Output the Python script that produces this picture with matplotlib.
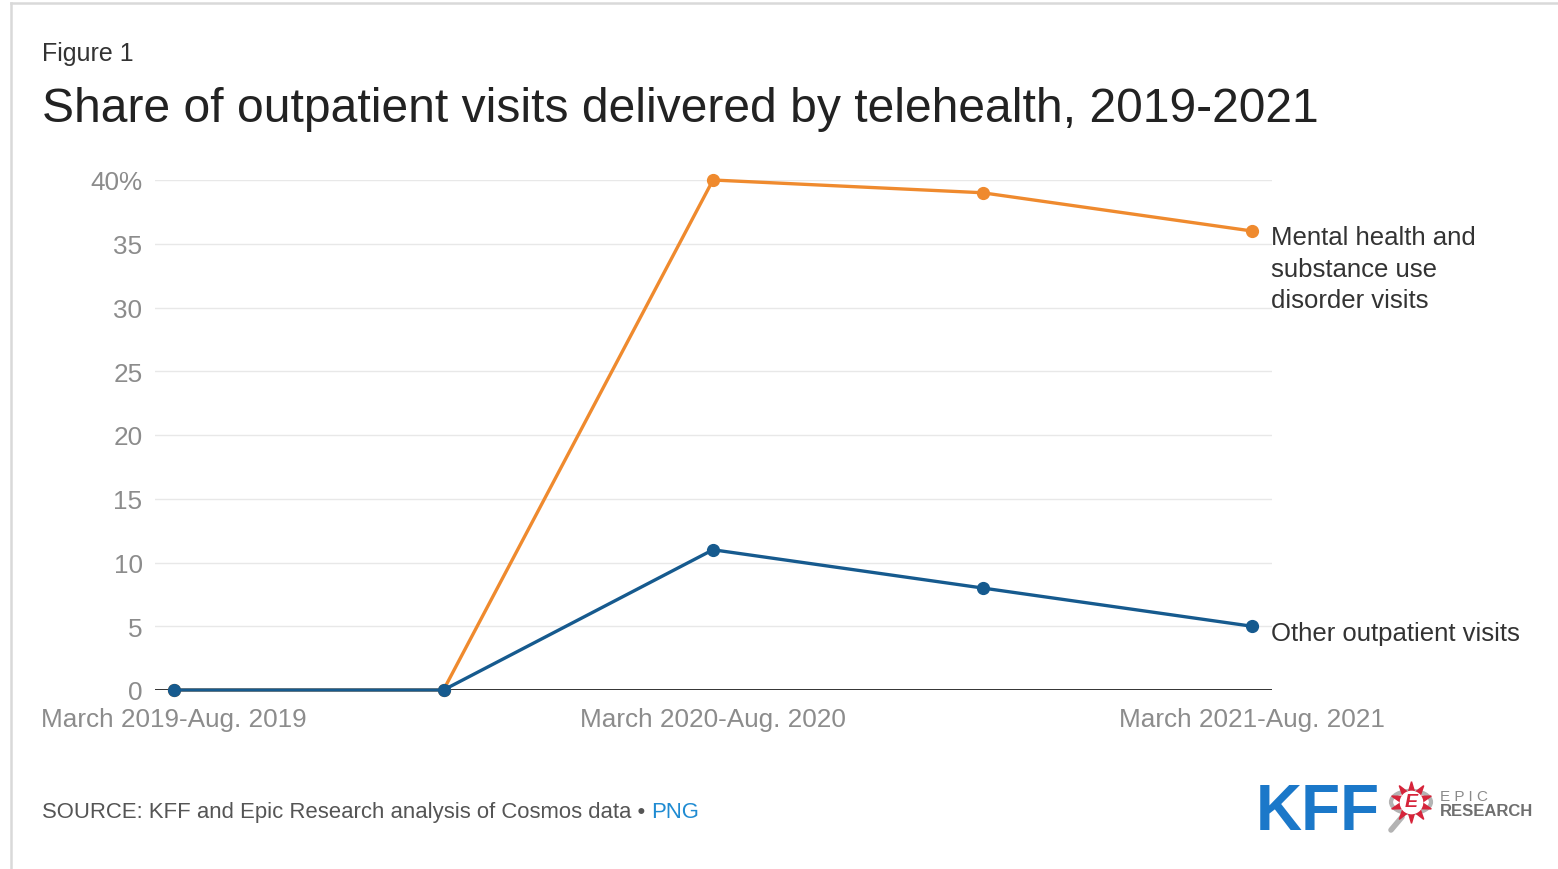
import numpy as np
import matplotlib
matplotlib.use("Agg")
import matplotlib.pyplot as plt
from matplotlib.lines import Line2D
from matplotlib.patches import Circle

plt.rcParams["font.family"] = ["Liberation Sans", "DejaVu Sans"]

periods = ["March 2019-Aug. 2019", "", "March 2020-Aug. 2020", "", "March 2021-Aug. 2021"]
mental_health = [0, 0, 40, 39, 36]
other_visits = [0, 0, 11, 8, 5]
yticks = [0, 5, 10, 15, 20, 25, 30, 35, 40]
ytick_labels = ["0", "5", "10", "15", "20", "25", "30", "35", "40%"]

ORANGE = "#ef8a2e"
BLUE = "#165a8e"
GREY_TXT = "#8c8c8c"
DARK_TXT = "#333333"

W, H = 1558, 870
fig = plt.figure(figsize=(W / 100, H / 100), dpi=100)

# outer frame (only top and left edges show)
fig.add_artist(Line2D([11 / W, 11 / W], [0, 1 - 4 / H], color="#d9d9d9", lw=1.8))
fig.add_artist(Line2D([11 / W, 1], [1 - 4 / H, 1 - 4 / H], color="#d9d9d9", lw=1.8))

fig.text(42 / W, 1 - 54 / H, "Figure 1", fontsize=18, color=DARK_TXT, va="center")
fig.text(42 / W, 1 - 110 / H, "Share of outpatient visits delivered by telehealth, 2019-2021",
         fontsize=34.6, color="#222222", va="center")

ax = fig.add_axes([155 / W, 1 - 691 / H, (1272 - 155) / W, (691 - 181) / H])
x = np.arange(len(periods))
ax.plot(x, mental_health, color=ORANGE, lw=2.4, marker="o", ms=8.5, clip_on=False, zorder=3)
ax.plot(x, other_visits, color=BLUE, lw=2.4, marker="o", ms=8.5, clip_on=False, zorder=4)

ax.set_ylim(0, 40)
ax.set_xlim(-19 * 4 / 1078, 4 + 20 * 4 / 1078)
ax.set_yticks(yticks)
ax.set_yticklabels(ytick_labels)
ax.set_xticks(x)
ax.set_xticklabels(periods)
ax.tick_params(axis="both", length=0, labelsize=18.8, labelcolor=GREY_TXT)
ax.tick_params(axis="y", pad=9)
ax.tick_params(axis="x", pad=12)
ax.grid(axis="y", color="#e8e8e8", lw=1.0)
ax.set_axisbelow(True)
for s in ax.spines.values():
    s.set_visible(False)
ax.axhline(0, color="#333333", lw=1.4, zorder=2)

ax.annotate("Mental health and\nsubstance use\ndisorder visits", xy=(4, mental_health[-1]),
            xytext=(14, 4), textcoords="offset points", fontsize=18.5, color=DARK_TXT,
            va="top", ha="left", linespacing=1.38, annotation_clip=False)
ax.annotate("Other outpatient visits", xy=(4, other_visits[-1]),
            xytext=(14, -5), textcoords="offset points", fontsize=18.5, color=DARK_TXT,
            va="center", ha="left", annotation_clip=False)

# source line
src = fig.text(42 / W, 1 - 813 / H, "SOURCE: KFF and Epic Research analysis of Cosmos data \u2022 ",
               fontsize=15.9, color="#555555", va="center")
fig.canvas.draw()
bb = src.get_window_extent()
fig.text(bb.x1 / W, 1 - 813 / H, "PNG", fontsize=15.9, color="#1f8bd2", va="center")

# logos
fig.text(1256 / W, 1 - 813 / H, "KFF", fontsize=46, fontweight="bold", color="#1b78c9",
         va="center", ha="left", family=["Liberation Sans Narrow", "Liberation Sans"])
lx, ly = 1411 / W, 1 - 803 / H
fig.add_artist(Line2D([1391 / W, 1402 / W], [1 - 831 / H, 1 - 818 / H], color="#b3b3b3",
                      lw=4, solid_capstyle="round"))
fig.add_artist(Circle((lx, ly), 20 / W, transform=fig.transFigure, fill=False,
                      ec="#b3b3b3", lw=3))
fig.add_artist(Line2D([lx], [ly], marker=(10, 1, 0), ms=30, color="#d6243a"))
fig.add_artist(Line2D([lx], [ly], marker="o", ms=16, color="white"))
fig.text(lx, ly, "E", fontsize=14, fontweight="bold", style="italic", color="#d6243a",
         ha="center", va="center")
fig.text(1440 / W, 1 - 797 / H, "E P I C", fontsize=11, color="#8a8a8a", va="center")
fig.text(1440 / W, 1 - 812 / H, "RESEARCH", fontsize=12, fontweight="bold",
         color="#6f6f6f", va="center")

fig.savefig("out.png", dpi=100)
